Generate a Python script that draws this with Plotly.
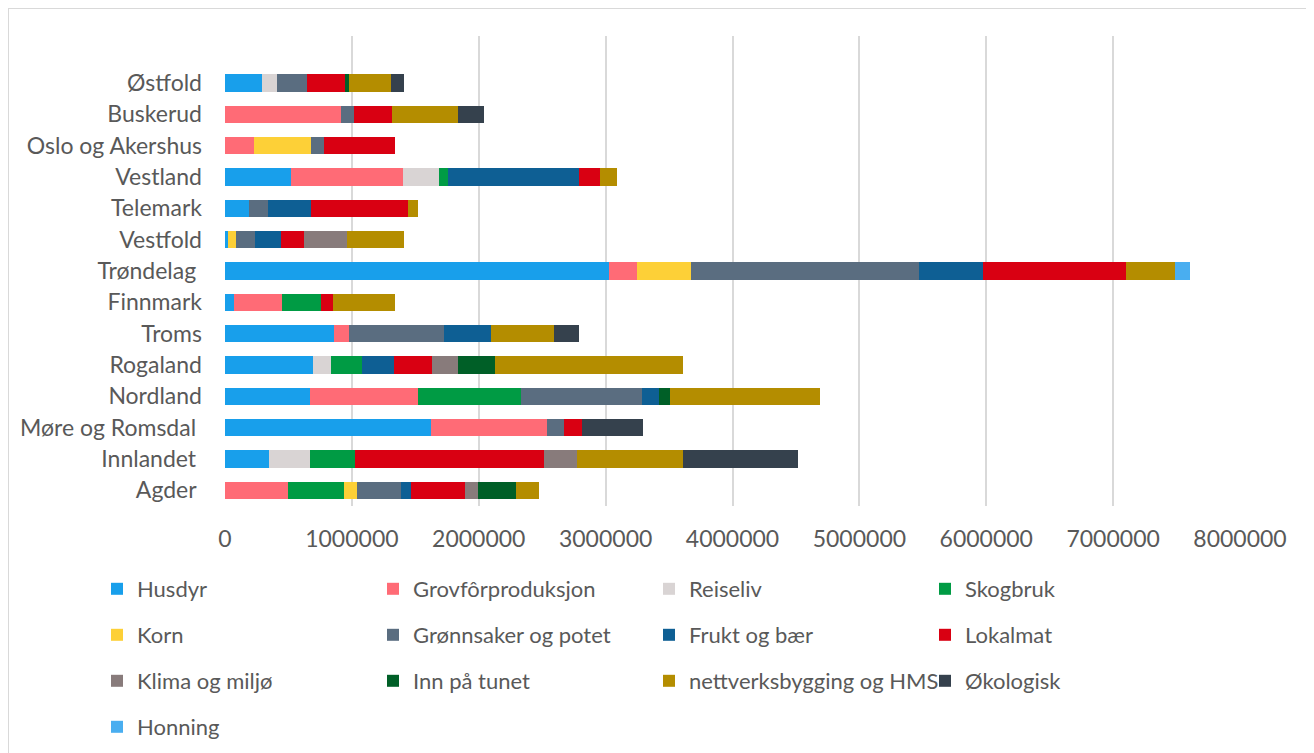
import plotly.graph_objects as go

# categories (bottom to top, as in the source sheet)
regions = [
    "Agder ", "Innlandet ", "Møre og Romsdal ", "Nordland", "Rogaland", "Troms",
    "Finnmark", "Trøndelag ", "Vestfold", "Telemark", "Vestland",
    "Oslo og Akershus", "Buskerud", "Østfold",
]

# one list per measure, same order as regions
husdyr = [0, 347000, 1623000, 673000, 697000, 857000, 70000, 3023000, 23000, 193000, 523000, 0, 0, 293000]
grovfor = [493000, 0, 917000, 850000, 0, 123000, 377000, 223000, 0, 0, 877000, 227000, 913000, 0]
reiseliv = [0, 320000, 0, 0, 140000, 0, 0, 0, 0, 0, 283000, 0, 0, 117000]
skogbruk = [443000, 357000, 0, 807000, 243000, 0, 307000, 0, 0, 0, 73000, 0, 0, 0]
korn = [103000, 0, 0, 0, 0, 0, 0, 425000, 60000, 0, 0, 453000, 0, 0]
gronnsaker = [350000, 0, 133000, 959000, 0, 750000, 0, 1797000, 150000, 143000, 0, 100000, 103000, 233000]
frukt = [77000, 0, 0, 133000, 250000, 370000, 0, 505000, 210000, 343000, 1033000, 0, 0, 0]
lokalmat = [423000, 1493000, 140000, 0, 300000, 0, 100000, 1126000, 180000, 767000, 170000, 560000, 300000, 300000]
klima = [103000, 257000, 0, 0, 203000, 0, 0, 0, 337000, 0, 0, 0, 0, 0]
inn_pa_tunet = [303000, 0, 0, 86000, 297000, 0, 0, 0, 0, 0, 0, 0, 0, 37000]
nettverk = [180000, 835000, 0, 1183000, 1481000, 490000, 483000, 386000, 447000, 73000, 130000, 0, 520000, 327000]
okologisk = [0, 910000, 479000, 0, 0, 200000, 0, 0, 0, 0, 0, 0, 207000, 100000]
honning = [0, 0, 0, 0, 0, 0, 0, 119000, 0, 0, 0, 0, 0, 0]

series = [
    ("Husdyr", husdyr, "#189feb"),
    ("Grovfôrproduksjon", grovfor, "#ff6b76"),
    ("Reiseliv", reiseliv, "#d9d4d4"),
    ("Skogbruk", skogbruk, "#009b44"),
    ("Korn", korn, "#fdd037"),
    ("Grønnsaker og potet", gronnsaker, "#5a6d80"),
    ("Frukt og bær", frukt, "#0e5f94"),
    ("Lokalmat", lokalmat, "#d90012"),
    ("Klima og miljø", klima, "#887b7b"),
    ("Inn på tunet", inn_pa_tunet, "#005f27"),
    ("nettverksbygging og HMS", nettverk, "#b48d00"),
    ("Økologisk", okologisk, "#35414d"),
    ("Honning", honning, "#49aef0"),
]

text_colour = "#595959"
font_family = "Lato"
font_size = 23

# the page body adds an 8px offset, so the figure is 8px smaller
W, H = 1306, 745
# plot area in figure pixels
left, right, top, bottom = 217, 1232, 28, 498

fig = go.Figure()

# every legend entry gets its own legend so the 4-column grid matches exactly
legend_layout = {}
for i, (name, values, colour) in enumerate(series):
    legend_name = "legend" if i == 0 else "legend{}".format(i + 1)
    fig.add_trace(
        go.Bar(
            y=regions,
            x=values,
            name=name,
            orientation="h",
            marker=dict(color=colour, line=dict(width=0)),
            legend=legend_name,
            showlegend=True,
        )
    )
    col, row = i % 4, i // 4
    legend_layout[legend_name] = dict(
        xref="container",
        yref="container",
        x=(89 + 276 * col) / W,
        xanchor="left",
        y=1 - (581 + 46 * row) / H,
        yanchor="middle",
        orientation="h",
        font=dict(family=font_family, size=22, color=text_colour),
        bgcolor="rgba(0,0,0,0)",
        borderwidth=0,
        itemclick=False,
        visible=True,
    )


def px_to_paper_y(py):
    return (bottom - py) / (bottom - top)


def px_to_paper_x(px):
    return (px - left) / (right - left)


fig.update_layout(
    barmode="stack",
    bargap=0.45,
    width=W,
    height=H,
    showlegend=True,
    margin=dict(l=left, r=W - right, t=top, b=H - bottom, autoexpand=False),
    plot_bgcolor="white",
    paper_bgcolor="white",
    font=dict(family=font_family, size=font_size, color=text_colour),
    xaxis=dict(
        range=[0, 8000000],
        dtick=1000000,
        tickformat="d",
        showgrid=True,
        gridcolor="#d9d9d9",
        gridwidth=1.5,
        zeroline=False,
        showline=False,
        ticklabelstandoff=17,
        automargin=False,
        fixedrange=True,
    ),
    yaxis=dict(
        categoryorder="array",
        categoryarray=regions,
        range=[-0.5, len(regions) + 0.5],
        showgrid=False,
        zeroline=False,
        showline=False,
        ticklabelstandoff=22,
        automargin=False,
        fixedrange=True,
    ),
    **legend_layout,
)

# light grey frame around the whole chart (bottom edge falls outside the view)
fig.add_shape(
    type="rect",
    xref="paper",
    yref="paper",
    x0=px_to_paper_x(0),
    x1=px_to_paper_x(1302),
    y0=px_to_paper_y(760),
    y1=px_to_paper_y(0),
    line=dict(color="#d9d9d9", width=2),
    fillcolor="rgba(0,0,0,0)",
    layer="below",
)

fig.write_html("out.html")
